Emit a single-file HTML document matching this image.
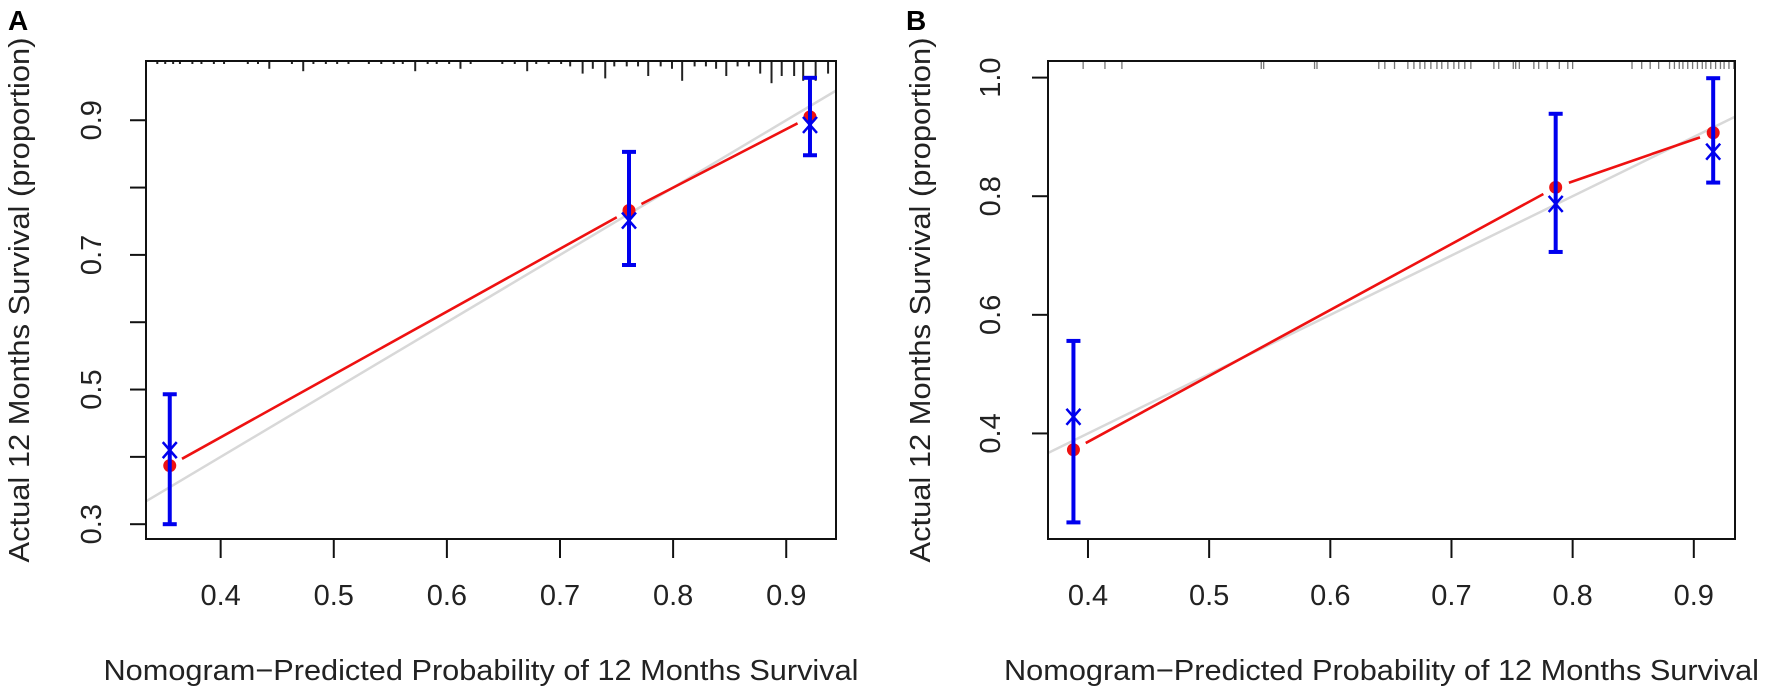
<!DOCTYPE html>
<html><head><meta charset="utf-8">
<style>
html,body{margin:0;padding:0;background:#fff;}
svg{display:block;font-family:"Liberation Sans",Arial,sans-serif;}
</style></head>
<body>
<svg id="chart" width="1772" height="688" viewBox="0 0 1772 688" xmlns="http://www.w3.org/2000/svg"></svg>
<script>
// ---- Panel A data ----
const aPred = [0.355, 0.761, 0.921];
const aObsKM = [0.387, 0.766, 0.905];
const aObsCorr = [0.41, 0.751, 0.893];
const aLow = [0.30, 0.685, 0.848];
const aHigh = [0.493, 0.853, 0.963];
const aXTicks = [0.4, 0.5, 0.6, 0.7, 0.8, 0.9];
const aYTicks = [0.3, 0.5, 0.7, 0.9];
const aYMinor = [0.4, 0.6, 0.8];
const aRug = [.344,.351,.358,.364,.375,.383,.394,.403,.424,.433,.443,.463,.473,.482,.493,.503,.513,.531,.542,.553,.561,.572,.583,.591,.602,.612,.621,.649,.660,.671,.679,.690,.701,.709,.720,.729,.740,.748,.759,.769,.778,.789,.799,.808,.819,.829,.838,.847,.857,.867,.877,.887,.896,.907,.915,.926,.937];
const aRugCount = [1,1,1,1,1,1,1,1,1,1,3,1,4,1,1,1,1,1,1,1,1,4,1,1,1,3,1,1,1,4,1,1,1,2,5,3,7,2,2,2,6,2,3,8,2,2,3,6,2,2,5,9,6,6,8,8,5];

// ---- Panel B data ----
const bPred = [0.388, 0.786, 0.916];
const bObsKM = [0.3725, 0.815, 0.907];
const bObsCorr = [0.428, 0.787, 0.875];
const bLow = [0.25, 0.706, 0.823];
const bHigh = [0.556, 0.939, 0.999];
const bXTicks = [0.4, 0.5, 0.6, 0.7, 0.8, 0.9];
const bYTicks = [0.4, 0.6, 0.8, 1.0];
const bYMinor = [];
const bRug = [.396,.414,.428,.543,.545,.587,.589,.640,.645,.653,.664,.669,.674,.678,.683,.688,.692,.697,.702,.706,.711,.716,.735,.739,.751,.753,.756,.768,.772,.779,.789,.796,.800,.849,.857,.864,.871,.880,.884,.888,.891,.895,.899,.903,.907,.910,.914,.918,.922,.925,.929,.933];

const NS = "http://www.w3.org/2000/svg";
const svg = document.getElementById("chart");
function el(tag, attrs, parent, text){
  const e = document.createElementNS(NS, tag);
  for (const k in attrs) e.setAttribute(k, attrs[k]);
  if (text !== undefined) e.textContent = text;
  (parent || svg).appendChild(e);
  return e;
}

function panel(cfg){
  const g = el("g", {});
  
  
  const L=cfg.left, R=cfg.right, T=61, B=539;
  const sx = v => L + (v - cfg.xmin) / (cfg.xmax - cfg.xmin) * (R - L);
  const sy = v => B - (v - cfg.ymin) / (cfg.ymax - cfg.ymin) * (B - T);

  const cid = "clip" + cfg.letter;
  const defs = el("defs", {}, g);
  const cp = el("clipPath", {id: cid}, defs);
  el("rect", {x:L, y:T, width:R-L, height:B-T}, cp);

  const diag = el("line", {x1:sx(cfg.xmin), y1:sy(cfg.xmin), x2:sx(cfg.xmax), y2:sy(cfg.xmax), stroke:"#d8d8d8", "stroke-width":2.5, "clip-path":"url(#"+cid+")"}, g);
  
  

  const p = cfg.pred, o = cfg.km;
  for (let i=0;i<p.length-1;i++){
    const x1=sx(p[i]), y1=sy(o[i]), x2=sx(p[i+1]), y2=sy(o[i+1]);
    const dx=x2-x1, dy=y2-y1, len=Math.hypot(dx,dy), gap=cfg.gap;
    const seg = el("line", {x1:x1+dx/len*gap, y1:y1+dy/len*gap, x2:x2-dx/len*gap, y2:y2-dy/len*gap, stroke:"#ee1111", "stroke-width":2.6}, g);
    
    
  }

  for (let i=0;i<cfg.rug.length;i++){
    const x = sx(cfg.rug[i]);
    const len = cfg.rugCount ? 3 + (cfg.rugCount[i]-1)*2.4 : 8;
    const r = el("line", {x1:x, y1:T, x2:x, y2:T+len, stroke: cfg.rugCount ? "#222" : "#777", "stroke-width": cfg.rugCount ? 2 : 1.3}, g);
    
    
  }

  for (let i=0;i<p.length;i++){
    const x = sx(p[i]);
    const dot = el("circle", {cx:x, cy:sy(o[i]), r:6.5, fill:"#ee1111"}, g);
    
    
    const eb = el("g", {stroke:"#0000ee", "stroke-width":4, fill:"none"}, g);
    
    
    el("line", {x1:x, y1:sy(cfg.low[i]), x2:x, y2:sy(cfg.high[i])}, eb);
    el("line", {x1:x-7, y1:sy(cfg.low[i]), x2:x+7, y2:sy(cfg.low[i])}, eb);
    el("line", {x1:x-7, y1:sy(cfg.high[i]), x2:x+7, y2:sy(cfg.high[i])}, eb);
    const cy = sy(cfg.corr[i]);
    const xm = el("path", {d:`M${x-7},${cy-8}L${x+7},${cy+8}M${x+7},${cy-8}L${x-7},${cy+8}`, stroke:"#0000ee", "stroke-width":2.5, fill:"none"}, g);
    
    
  }

  const box = el("rect", {x:L, y:T, width:R-L, height:B-T, fill:"none", stroke:"#111", "stroke-width":2}, g);
  
  

  for (const t of cfg.xticks){
    const x = sx(t);
    el("line", {x1:x, y1:B, x2:x, y2:B+19, stroke:"#111", "stroke-width":2}, g);
    const lb = el("text", {x:x, y:605, "font-size":29, "text-anchor":"middle", fill:"#222"}, g, t.toFixed(1));
    
    
  }
  for (const t of cfg.yticks){
    const y = sy(t);
    el("line", {x1:L-16, y1:y, x2:L, y2:y, stroke:"#111", "stroke-width":2}, g);
    const lb = el("text", {x:cfg.ylabX, y:y, "font-size":29, "text-anchor":"middle", fill:"#222", transform:`rotate(-90 ${cfg.ylabX} ${y})`}, g, t.toFixed(1));
    
    
  }
  for (const t of cfg.yminor){
    const y = sy(t);
    el("line", {x1:L-16, y1:y, x2:L, y2:y, stroke:"#111", "stroke-width":2}, g);
  }
  const xt = el("text", {x:(L+R)/2 - 10, y:680, "font-size":29, "text-anchor":"middle", fill:"#222", textLength:755, lengthAdjust:"spacingAndGlyphs"}, g, "Nomogram\u2212Predicted Probability of 12 Months Survival");
  
  
  const yc = 300, yx = cfg.ytitleX;
  const yt = el("text", {x:yx, y:yc, "font-size":29, "text-anchor":"middle", fill:"#222", transform:`rotate(-90 ${yx} ${yc})`, textLength:525, lengthAdjust:"spacingAndGlyphs"}, g, "Actual 12 Months Survival (proportion)");
  
  
  const pl = el("text", {x:cfg.letterX, y:30, "font-size":28, "font-weight":"bold", fill:"#000"}, g, cfg.letter);
  
  
}

panel({name:"panel-a", letter:"A", letterX:8, left:146, right:836, xmin:0.334, xmax:0.944, ymin:0.278, ymax:0.988,
  pred:aPred, km:aObsKM, corr:aObsCorr, low:aLow, high:aHigh, xticks:aXTicks, yticks:aYTicks, yminor:aYMinor,
  rug:aRug, rugCount:aRugCount, ylabX:101, ytitleX:29, gap:14});
panel({name:"panel-b", letter:"B", letterX:906, left:1048, right:1735, xmin:0.367, xmax:0.934, ymin:0.222, ymax:1.028,
  pred:bPred, km:bObsKM, corr:bObsCorr, low:bLow, high:bHigh, xticks:bXTicks, yticks:bYTicks, yminor:bYMinor,
  rug:bRug, rugCount:null, ylabX:1000, ytitleX:930, gap:14});
</script>
</body></html>
